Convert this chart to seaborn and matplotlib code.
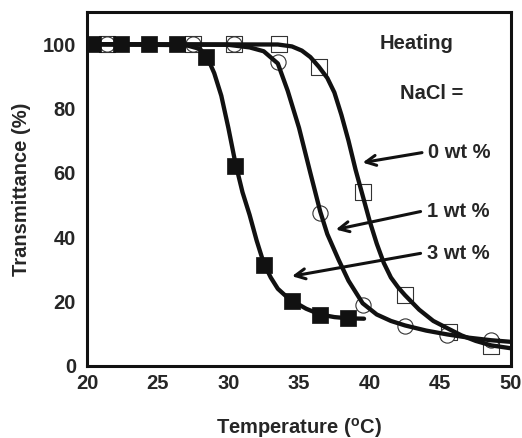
import matplotlib
matplotlib.use('Agg')
import numpy as np
import pandas as pd
import seaborn as sns
import matplotlib.pyplot as plt

x_3wt = [20.4, 22.4, 24.4, 26.4, 28.4, 30.5, 32.5, 34.5, 36.5, 38.5]
t_3wt = [100, 100, 100, 100, 96, 62, 31.5, 20.3, 15.8, 14.8]

x_1wt = [21.4, 27.5, 30.4, 33.5, 36.5, 39.5, 42.5, 45.5, 48.6]
t_1wt = [100, 100, 100, 94.5, 47.5, 19, 12.5, 9.7, 8]

x_0wt = [21.4, 27.5, 30.4, 33.6, 36.4, 39.5, 42.5, 45.6, 48.6]
t_0wt = [100, 100, 100, 100, 93, 54, 22, 10.5, 6.2]

# fitted curves
cx_3wt = [20, 27, 28, 28.5, 29, 29.5, 30, 30.5, 31, 31.5, 32, 32.5, 33, 33.5, 34, 34.5, 35.5, 36.5, 37.5, 38.5, 39.6]
cy_3wt = [100, 99.7, 98.5, 96, 91, 84, 74, 63, 54, 47, 39, 32, 27.5, 24, 22, 20.3, 17.8, 16, 15.2, 14.8, 14.7]

cx_1wt = [20, 30, 31.5, 32.5, 33.5, 34.2, 35, 35.8, 36.5, 37, 37.8, 38.5, 39.5, 40.5, 41.5, 42.5, 44, 45.5, 47, 48.6, 50]
cy_1wt = [100, 99.8, 99, 97.8, 94, 85.5, 74, 60, 48, 41, 33, 26.5, 19.5, 16, 14, 12.6, 11, 9.8, 8.8, 8, 7.5]

cx_0wt = [20, 33.5, 34.5, 35.2, 35.8, 36.4, 37, 37.5, 38, 38.5, 39, 39.5, 40, 40.5, 41, 41.5, 42, 42.5, 43.5, 44.5, 45.6, 46.5, 47.5, 48.6, 50]
cy_0wt = [100, 99.9, 99.3, 98, 96, 93, 89.5, 85, 78, 70, 61, 53, 45, 38, 32, 27.5, 24.5, 22, 17.5, 14, 11.5, 9.5, 7.8, 6.4, 5.5]

sns.set_style('white')
plt.rcParams['font.family'] = ['Liberation Sans', 'DejaVu Sans']
plt.rcParams['font.weight'] = 'bold'
plt.rcParams['mathtext.fontset'] = 'custom'
plt.rcParams['mathtext.bf'] = 'Liberation Sans:bold'
plt.rcParams['mathtext.rm'] = 'Liberation Sans:bold'

fs = 14.5
fig = plt.figure(figsize=(5.22, 4.38), dpi=100)
ax = fig.add_axes([0.1667, 0.1644, 0.8123, 0.8082])

ms = 120
sns.scatterplot(x=x_0wt, y=t_0wt, marker='s', s=ms, color='white', edgecolor='#333333', linewidth=0.8, ax=ax, zorder=2)
sns.scatterplot(x=x_1wt, y=t_1wt, marker='o', s=ms, color='white', edgecolor='#333333', linewidth=0.8, ax=ax, zorder=2)
sns.scatterplot(x=x_3wt, y=t_3wt, marker='s', s=ms, color='#111111', edgecolor='#111111', linewidth=0.5, ax=ax, zorder=3)

for cx, cy in [(cx_0wt, cy_0wt), (cx_1wt, cy_1wt), (cx_3wt, cy_3wt)]:
    sns.lineplot(x=cx, y=cy, sort=False, estimator=None, color='#111111', lw=3.1, ax=ax, zorder=4)

ax.set_xlim(20, 50)
ax.set_ylim(0, 110)
ax.set_xticks([20, 25, 30, 35, 40, 45, 50])
ax.set_yticks([0, 20, 40, 60, 80, 100])
ax.tick_params(length=0, labelsize=fs)
ax.tick_params(axis='x', pad=6)
ax.tick_params(axis='y', pad=8)
for s in ax.spines.values():
    s.set_linewidth(2.2)
    s.set_color('#111111')

ax.set_xlabel(r'Temperature ($\mathbf{^o}$C)', fontsize=fs, fontweight='bold', labelpad=16)
ax.set_ylabel('Transmittance (%)', fontsize=fs, fontweight='bold', labelpad=8)

ax.text(43.3, 100.3, 'Heating', ha='center', va='center', fontsize=fs, fontweight='bold')
ax.text(44.4, 84.8, 'NaCl =', ha='center', va='center', fontsize=fs, fontweight='bold')

arrows = [('0 wt %', (43.7, 66.3), (39.5, 63.2)),
          ('1 wt %', (43.6, 48.0), (37.6, 42.4)),
          ('3 wt %', (43.6, 35.0), (34.5, 27.9))]
for label, start, tip in arrows:
    ax.annotate('', xy=tip, xytext=start,
                arrowprops=dict(arrowstyle='->', lw=2.2, color='#111111', mutation_scale=18,
                                shrinkA=0, shrinkB=0), zorder=5)
    ax.text(start[0] + 0.45, start[1], label, ha='left', va='center', fontsize=fs, fontweight='bold')

fig.savefig('out.png', dpi=100)
